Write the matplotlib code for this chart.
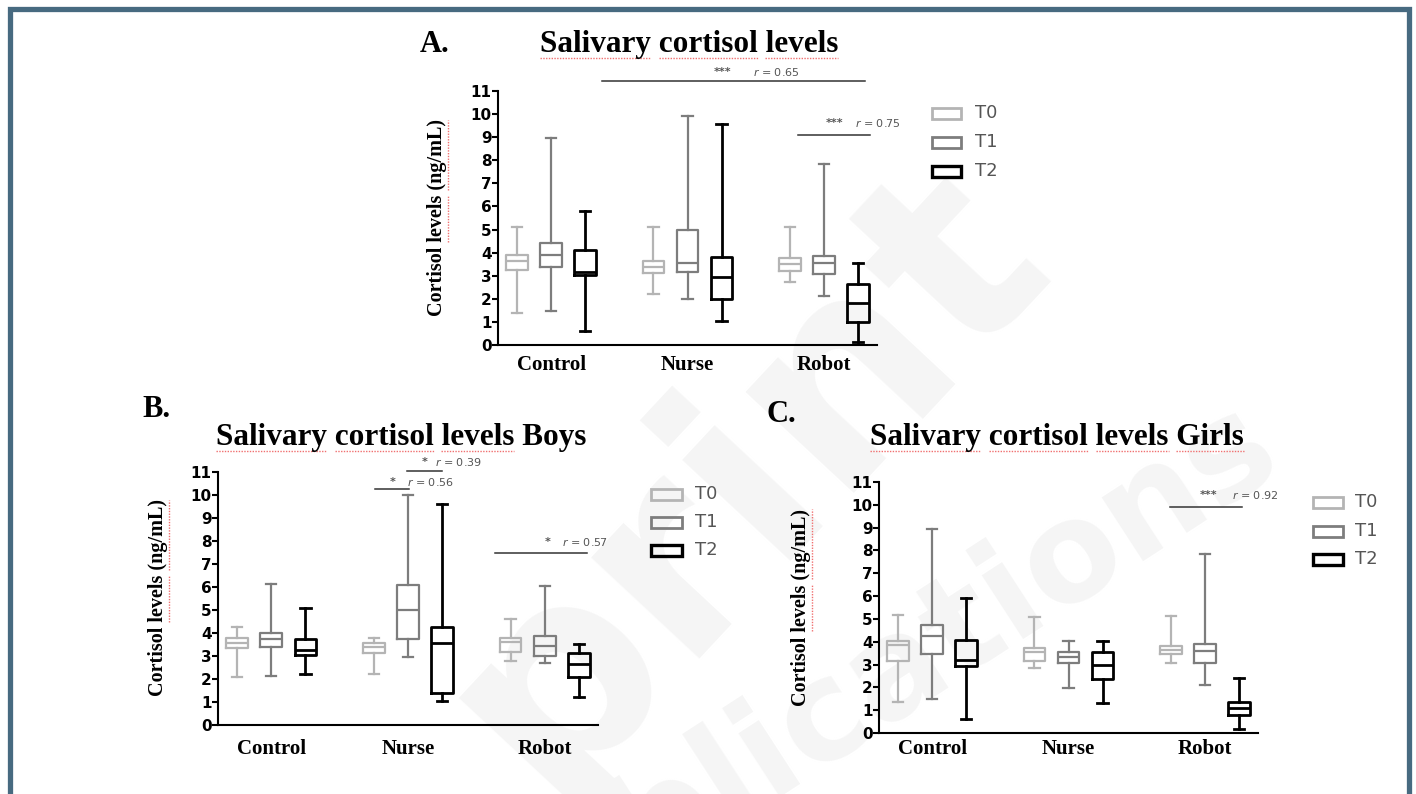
import matplotlib
matplotlib.use('Agg')
import matplotlib.pyplot as plt
from matplotlib.patches import Rectangle
from matplotlib.lines import Line2D

W, H, DPI = 1416, 794, 100

groups = ['Control', 'Nurse', 'Robot']
times = ['T0', 'T1', 'T2']
yticks = list(range(0, 12))

# box statistics per group: [whisker low, Q1, median, Q3, whisker high]
A_T0 = [[1.37, 3.25, 3.65, 3.90, 5.12], [2.20, 3.10, 3.39, 3.65, 5.10], [2.74, 3.22, 3.50, 3.75, 5.10]]
A_T1 = [[1.49, 3.39, 3.90, 4.43, 8.95], [1.98, 3.15, 3.56, 5.00, 9.93], [2.12, 3.07, 3.54, 3.87, 7.84]]
A_T2 = [[0.62, 3.03, 3.17, 4.11, 5.82], [1.05, 1.98, 2.96, 3.80, 9.55], [0.14, 1.01, 1.83, 2.64, 3.54]]

B_T0 = [[2.10, 3.33, 3.57, 3.80, 4.24], [2.21, 3.11, 3.37, 3.57, 3.80], [2.79, 3.18, 3.59, 3.80, 4.59]]
B_T1 = [[2.14, 3.37, 3.76, 4.00, 6.12], [2.97, 3.72, 5.02, 6.08, 9.98], [2.71, 3.01, 3.43, 3.86, 6.03]]
B_T2 = [[2.20, 3.04, 3.26, 3.76, 5.10], [1.06, 1.40, 3.55, 4.24, 9.60], [1.20, 2.07, 2.65, 3.11, 3.52]]

C_T0 = [[1.38, 3.16, 3.86, 4.05, 5.17], [2.84, 3.16, 3.53, 3.72, 5.07], [3.08, 3.45, 3.63, 3.80, 5.11]]
C_T1 = [[1.50, 3.47, 4.26, 4.74, 8.96], [1.97, 3.06, 3.35, 3.53, 4.01], [2.10, 3.05, 3.60, 3.89, 7.84]]
C_T2 = [[0.63, 2.94, 3.20, 4.08, 5.90], [1.31, 2.36, 2.99, 3.57, 4.01], [0.17, 0.80, 1.09, 1.38, 2.39]]

# significance: x1, x2, y, stars, stars_x, r label, r_x, text_y
sig_A = [(0.37, 2.30, 11.43, '***', 1.26, 'r = 0.65', 1.48, 11.82),
         (1.81, 2.34, 9.09, '***', 2.08, 'r = 0.75', 2.23, 9.61)]
sig_B = [(0.76, 1.01, 10.26, '*', 0.885, 'r = 0.56', 0.99, 10.57),
         (0.99, 1.25, 11.04, '*', 1.124, 'r = 0.39', 1.197, 11.43),
         (1.64, 2.31, 7.48, '*', 2.024, 'r = 0.57', 2.126, 7.96)]
sig_C = [(1.745, 2.273, 9.91, '***', 2.024, 'r = 0.92', 2.20, 10.44)]

colors = ['#b4b4b4', '#7d7d7d', '#000000']
lws = [1.6, 1.6, 2.0]
offsets = [-0.25, 0.0, 0.25]

fig = plt.figure(figsize=(W / DPI, H / DPI), dpi=DPI)
fig.patch.set_facecolor('white')

SERIF = 'Liberation Serif'


def px(x, y):
    return x / W, 1 - y / H


# faint watermark
fig.text(*px(545, 800), 'print', rotation=47, rotation_mode='anchor', ha='left', va='baseline',
         fontsize=195, fontweight='bold', family='DejaVu Sans', color='#f5f5f5', zorder=-5)
fig.text(*px(480, 985), 'publications', rotation=33, rotation_mode='anchor', ha='left', va='baseline',
         fontsize=100, fontweight='bold', family='DejaVu Sans', color='#f5f5f5', zorder=-5)


def panel(box, data, sigs, catpad):
    l, r, t, b = box
    ax = fig.add_axes([l / W, 1 - b / H, (r - l) / W, (b - t) / H])
    ax.patch.set_alpha(0)
    ax.set_xlim(-0.39, 2.39)
    ax.set_ylim(0, 11)
    for ti, series in enumerate(data):
        stats = [dict(whislo=s[0], q1=s[1], med=s[2], q3=s[3], whishi=s[4], fliers=[]) for s in series]
        pos = [g + offsets[ti] for g in range(len(groups))]
        c, lw = colors[ti], lws[ti]
        ax.bxp(stats, positions=pos, widths=0.16, capwidths=0.075, showfliers=False,
               manage_ticks=False,
               boxprops=dict(color=c, linewidth=lw),
               whiskerprops=dict(color=c, linewidth=lw),
               capprops=dict(color=c, linewidth=lw),
               medianprops=dict(color=c, linewidth=lw))
    for sp in ['top', 'right']:
        ax.spines[sp].set_visible(False)
    for sp in ['left', 'bottom']:
        ax.spines[sp].set_linewidth(1.5)
    ax.set_yticks(yticks)
    ax.set_yticklabels([str(v) for v in yticks], fontweight='bold', family='DejaVu Sans', fontsize=11)
    ax.tick_params(axis='y', length=4, width=1.5, pad=0.5)
    ax.set_xticks(range(len(groups)))
    ax.set_xticklabels(groups, family=SERIF, fontweight='bold', fontsize=15)
    ax.tick_params(axis='x', length=0, pad=catpad)
    for (x1, x2, y, st, sx, rl, rx, ty) in sigs:
        ax.plot([x1, x2], [y, y], color='#333333', lw=1.1, clip_on=False)
        ax.text(sx, ty, st, ha='center', va='center', fontsize=8, fontweight='bold', color='#555555',
                clip_on=False)
        ax.text(rx, ty, '$r$' + rl[1:], ha='left', va='center', fontsize=8, color='#555555', clip_on=False)
    return ax


axA = panel((498, 877, 91, 345), [A_T0, A_T1, A_T2], sig_A, 7)
axB = panel((218, 598, 472, 725), [B_T0, B_T1, B_T2], sig_B, 10)
axC = panel((879, 1258, 482, 733), [C_T0, C_T1, C_T2], sig_C, 4)

# titles and letters
titles = [
    ('A.', 420, 52, 'Salivary cortisol levels', 689, 52, ['Salivary', 'cortisol', 'levels']),
    ('B.', 142, 417, 'Salivary cortisol levels Boys', 401, 445, ['Salivary', 'cortisol', 'levels']),
    ('C.', 767, 422, 'Salivary cortisol levels Girls', 1057, 445, ['Salivary', 'cortisol', 'levels', 'Girls']),
]
ylabels = [(437, 218), (158, 598), (801, 607)]

title_objs = []
for letter, lx, ly, title, tx, ty, uw in titles:
    fig.text(*px(lx, ly), letter, ha='left', va='baseline', family=SERIF, fontweight='bold', fontsize=22)
    tobj = fig.text(*px(tx, ty), title, ha='center', va='baseline', family=SERIF, fontweight='bold', fontsize=22.5)
    title_objs.append((tobj, uw))

ylab_objs = []
for (x, y) in ylabels:
    yobj = fig.text(*px(x, y), 'Cortisol levels (ng/mL)', rotation=90, ha='center', va='center',
                    family=SERIF, fontweight='bold', fontsize=14.5)
    ylab_objs.append((yobj, ['levels', '(ng/mL)']))

# legends
legends = [(932, 961, [113, 142, 171], 975), (651, 682, [494, 522, 550], 695), (1313, 1343, [502, 531, 559], 1355)]
for x0, x1, ys, txx in legends:
    for ti, yy in enumerate(ys):
        fig.add_artist(Rectangle(px(x0, yy + 5.5), (x1 - x0) / W, 11 / H, transform=fig.transFigure,
                                 fill=False, ec=colors[ti], lw=lws[ti] + 0.4))
        fig.text(*px(txx, yy), times[ti], ha='left', va='center', family='DejaVu Sans', fontsize=13,
                 color='#555555')

# border frame
fig.add_artist(Rectangle(px(9.5, 900), (1409 - 9.5) / W, (900 - 8.5) / H, transform=fig.transFigure,
                         fill=False, ec='#476a80', lw=3.8, zorder=10))

# red spell-check style underlines
fig.canvas.draw()
ren = fig.canvas.get_renderer()
for tobj, words in title_objs:
    s = tobj.get_text()
    fp = tobj.get_fontproperties()
    bb = tobj.get_window_extent(ren)
    for w in words:
        end = s.index(w) + len(w)
        we = ren.get_text_width_height_descent(s[:end], fp, False)[0]
        ww = ren.get_text_width_height_descent(w, fp, False)[0]
        xs = bb.x0 + we - ww
        fig.add_artist(Line2D([xs / W, (bb.x0 + we) / W], [(bb.y0 + 1) / H] * 2, transform=fig.transFigure,
                              color='#f07070', lw=1.0, ls=(0, (1, 1))))
for yobj, words in ylab_objs:
    s = yobj.get_text()
    fp = yobj.get_fontproperties()
    bb = yobj.get_window_extent(ren)
    for w in words:
        end = s.index(w) + len(w)
        we = ren.get_text_width_height_descent(s[:end], fp, False)[0]
        ww = ren.get_text_width_height_descent(w, fp, False)[0]
        ys0 = bb.y0 + we - ww
        fig.add_artist(Line2D([(bb.x1 + 1) / W] * 2, [ys0 / H, (bb.y0 + we) / H], transform=fig.transFigure,
                              color='#f07070', lw=1.0, ls=(0, (1, 1))))

fig.savefig('out.png', dpi=DPI, facecolor='white')
